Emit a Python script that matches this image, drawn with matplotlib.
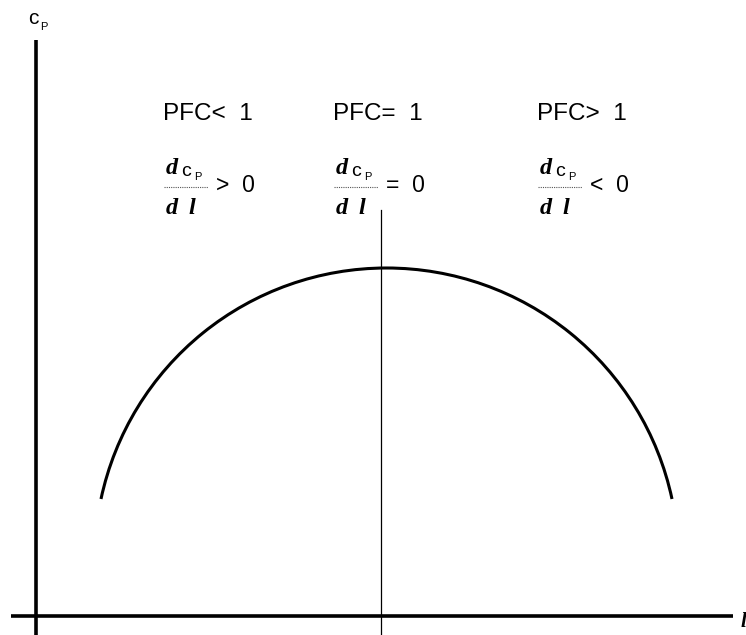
import math

import matplotlib
matplotlib.use("Agg")
import matplotlib.pyplot as plt
from matplotlib.patches import Arc

# conceptual curve: power coefficient vs. tip speed ratio (arbitrary units)
lam_ends = [65, 636]      # lambda where the drawn curve starts / ends
cp_end = 117              # c_P at both ends
lam_top = 350.5           # lambda of the maximum
cp_top = 348              # maximum c_P
lam_opt = 345             # vertical marker (PFC = 1)
marker_top = 406

regions = ["PFC<  1", "PFC=  1", "PFC>  1"]
signs = [">", "=", "<"]
region_x = [127, 297, 501]

sans = "Liberation Sans"
serif = "Liberation Serif"

fig = plt.figure(figsize=(7.46, 6.35), dpi=100)
ax = fig.add_axes([0, 0, 1, 1])
ax.set_xlim(-36, 710)
ax.set_ylim(-19, 616)
ax.axis("off")

# axes of the diagram
ax.plot([0, 0], [-19, 576], color="black", lw=2.6, solid_capstyle="butt")
ax.plot([-25, 697], [0, 0], color="black", lw=2.6, solid_capstyle="butt")

# circular arc through the two end points and the maximum
cx = lam_top
half = (lam_ends[1] - lam_ends[0]) / 2
cy = (half**2 + cp_end**2 - cp_top**2) / (2 * (cp_end - cp_top))
r = cp_top - cy
ang = math.degrees(math.atan2(cp_end - cy, half))
ax.add_patch(Arc((cx, cy), 2 * r, 2 * r, theta1=ang, theta2=180 - ang,
                 color="black", lw=2.2))

# optimum marker
ax.plot([lam_opt, lam_opt], [-19, marker_top], color="black", lw=0.9)

# axis labels
ax.text(-8, 592, "c", fontsize=15, family=sans, ha="left", va="baseline")
ax.text(4, 586, "P", fontsize=8, family=sans, ha="left", va="baseline")
ax.text(705, -11, "l", fontsize=15, family=serif, fontweight="bold",
        fontstyle="italic", ha="left", va="baseline")

bold_it = dict(family=serif, fontweight="bold", fontstyle="italic",
               ha="left", va="baseline")

for x0, label, sign in zip(region_x, regions, signs):
    ax.text(x0, 496, label, fontsize=17.5, family=sans, ha="left", va="baseline")
    fx = x0 + 3
    ax.text(fx, 442, "d", fontsize=17.5, **bold_it)
    ax.text(fx + 15, 440, "c", fontsize=14, family=sans, ha="left", va="baseline")
    ax.text(fx + 28, 436, "P", fontsize=8, family=sans, ha="left", va="baseline")
    ax.plot([fx - 2, fx + 42], [429, 429], color="#555555", lw=0.8, ls=(0, (1, 1)))
    ax.text(fx, 402, "d", fontsize=17.5, **bold_it)
    ax.text(fx + 22, 402, "l", fontsize=17.5, **bold_it)
    ax.text(fx + 50, 424, sign + "  0", fontsize=16.5, family=sans,
            ha="left", va="baseline")

fig.savefig("out.png", dpi=100)
